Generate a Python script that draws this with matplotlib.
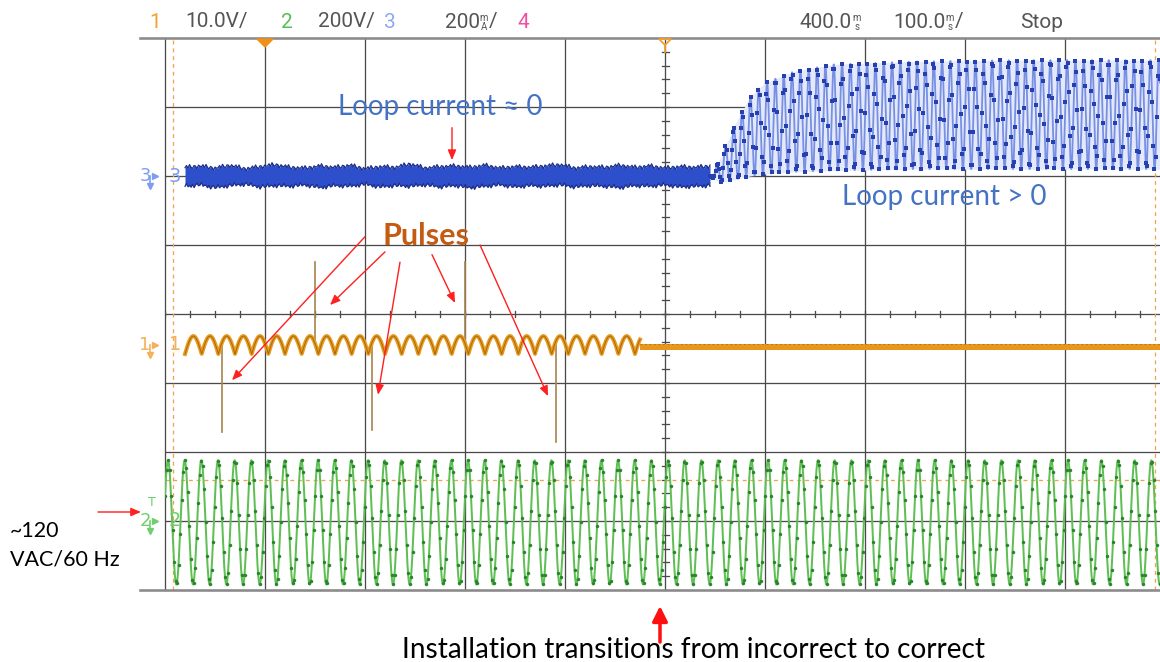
import numpy as np
import matplotlib
matplotlib.use("Agg")
import matplotlib.pyplot as plt
from matplotlib.patches import Polygon

# ------------------------------------------------------------------
# Data (time in ms relative to trigger, amplitude in screen divisions)
# ------------------------------------------------------------------
grid_times = [-500, -400, -300, -200, -100, 0, 100, 200, 300, 400]
grid_divs = [-4, -3, -2, -1, 0, 1, 2, 3, 4]

# Channel 3 (loop current) - idle noisy band before transition
ch3_idle_start = -480
ch3_idle_step = 15
ch3_idle_top = [2.12, 2.14, 2.11, 2.15, 2.10, 2.13, 2.16, 2.12, 2.11, 2.14, 2.12, 2.15,
                2.10, 2.13, 2.12, 2.17, 2.11, 2.13, 2.14, 2.12, 2.15, 2.11, 2.13, 2.12,
                2.14, 2.16, 2.11, 2.13, 2.12, 2.15, 2.12, 2.14, 2.11, 2.13, 2.12, 2.14]
ch3_idle_bot = [1.86, 1.88, 1.84, 1.87, 1.89, 1.85, 1.87, 1.86, 1.88, 1.84, 1.87, 1.86,
                1.89, 1.85, 1.87, 1.86, 1.88, 1.85, 1.87, 1.84, 1.86, 1.88, 1.85, 1.87,
                1.86, 1.88, 1.85, 1.87, 1.86, 1.84, 1.87, 1.86, 1.88, 1.85, 1.86, 1.87]
ch3_fine_jitter = [0.0, 0.03, -0.01, 0.04, 0.0, -0.02, 0.02, 0.01, -0.03, 0.02, 0.0]
ch3_fine_step = 1.5
# Channel 3 active ripple envelope after transition
ch3_env_t = [45, 55, 70, 85, 100, 130, 170, 250, 350, 495]
ch3_env_top = [2.00, 2.25, 2.75, 3.15, 3.35, 3.52, 3.62, 3.66, 3.68, 3.68]
ch3_env_bot = [2.00, 1.90, 1.95, 2.00, 2.03, 2.06, 2.08, 2.10, 2.10, 2.10]
ch3_ripple_hz = 120.0

# Channel 1 (pulse line)
ch1_level = -0.45
ch1_ripple_pp = 0.26
ch1_ripple_hz = 60.0
ch1_start = -480
ch1_switch = -25
ch1_settled_level = -0.48
pulse_t = [-443, -350, -293, -200, -109]
pulse_end = [-1.71, 0.75, -1.68, 0.75, -1.86]

# Channel 2 (~120 VAC / 60 Hz)
ch2_center = -3.02
ch2_amp = 0.90
ch2_hz = 60.0
ch2_peak_t = -497

trigger_level = -2.41
cursor_t = [-492, 490]

# Annotation arrows (tail -> head), data coordinates
loop_arrow = ((-213, 2.70), (-213, 2.23))
pulse_arrows = [((-300, 1.12), (-433, -0.96)),
                ((-280, 0.90), (-335, 0.13)),
                ((-265, 0.75), (-287, -1.17)),
                ((-233, 0.86), (-210, 0.16)),
                ((-185, 1.00), (-117, -1.19))]

header_items = [("1", 149, "#F5A030"), ("10.0V/", 185, "#555555"),
                ("2", 281, "#55C055"), ("200V/", 318, "#555555"),
                ("3", 384, "#8FA8F0"), ("200", 445, "#555555"),
                ("/", 489, "#555555"), ("4", 518, "#F050A0"),
                ("400.0", 800, "#555555"), ("100.0", 893, "#555555"),
                ("/", 955, "#555555"), ("Stop", 1020, "#555555")]
header_units = [("m", "A", 484), ("m", "s", 857), ("m", "s", 950)]

# ------------------------------------------------------------------
W, H, DPI = 1160, 662, 100
fig = plt.figure(figsize=(W / DPI, H / DPI), dpi=DPI)
fig.patch.set_facecolor("white")
PX = 0.72  # points per pixel

x0, y_top, y_bot = 165, 38, 590
ax = fig.add_axes([x0 / W, (H - y_bot) / H, (W - x0) / W, (y_bot - y_top) / H])
ax.set_xlim(-500, 495)
ax.set_ylim(-4, 4)
ax.axis("off")

ov = fig.add_axes([0, 0, 1, 1], zorder=5)
ov.set_xlim(0, W)
ov.set_ylim(H, 0)
ov.axis("off")
ov.patch.set_alpha(0)

grid_c = "#4a4a4a"
for t in grid_times:
    ax.plot([t, t], [-4, 4], color=grid_c, lw=1.3 * PX, zorder=1, clip_on=False)
for d in grid_divs[1:-1]:
    ax.plot([-500, 495], [d, d], color=grid_c, lw=1.3 * PX, zorder=1)
ov.plot([140, W], [y_top, y_top], color="#8a8a8a", lw=2.6 * PX, zorder=1)
ov.plot([140, W], [y_bot, y_bot], color="#8a8a8a", lw=2.6 * PX, zorder=1)

for t in np.arange(-500, 496, 25):
    ax.plot([t, t], [-0.045, 0.045], color=grid_c, lw=1.3 * PX, zorder=1)
for d in np.arange(-4, 4.01, 0.2):
    ax.plot([-3.5, 3.5], [d, d], color=grid_c, lw=1.3 * PX, zorder=1)

dash_c = "#F2A24A"
ax.plot([-500, 495], [trigger_level] * 2, color=dash_c, lw=1.3 * PX,
        dashes=(3, 3), zorder=2)
for t in cursor_t:
    ax.plot([t, t], [-4, 4], color=dash_c, lw=1.3 * PX, dashes=(3, 3), zorder=2)

# ---------------- channel 2 (green) ----------------
t2 = np.linspace(-500, 495, 12000)
y2 = ch2_center + ch2_amp * np.cos(2 * np.pi * ch2_hz * (t2 - ch2_peak_t) / 1000.0)
ax.plot(t2, y2, color="#5FBF55", lw=2.0 * PX, zorder=3)
ts2 = np.arange(-500, 495, 1.5)
ys2 = ch2_center + ch2_amp * np.cos(2 * np.pi * ch2_hz * (ts2 - ch2_peak_t) / 1000.0)
ax.plot(ts2, ys2, ls="none", marker="o", ms=2.5, color="#2A862A", mew=0, zorder=3)

# ---------------- channel 3 (blue) ----------------
t3i = ch3_idle_start + ch3_idle_step * np.arange(len(ch3_idle_top))
t3f = np.arange(t3i[0], t3i[-1] + 0.01, ch3_fine_step)
jit = np.resize(np.array(ch3_fine_jitter), len(t3f))
top_f = np.interp(t3f, t3i, ch3_idle_top) + jit
bot_f = np.interp(t3f, t3i, ch3_idle_bot) - np.roll(jit, 3)
ax.fill_between(t3f, bot_f, top_f, color="#2E4FCB", lw=0, zorder=3)
ax.plot(t3f, top_f, color="#1C2E86", lw=1.2 * PX, zorder=3)
ax.plot(t3f, bot_f, color="#1C2E86", lw=1.2 * PX, zorder=3)

t3 = np.linspace(ch3_env_t[0], ch3_env_t[-1], 10000)
top3 = np.interp(t3, ch3_env_t, ch3_env_top)
bot3 = np.interp(t3, ch3_env_t, ch3_env_bot)
ax.fill_between(t3, bot3, top3, color="#E3E8FA", lw=0, zorder=2)
y3 = (top3 + bot3) / 2 + (top3 - bot3) / 2 * np.sin(2 * np.pi * ch3_ripple_hz * t3 / 1000.0)
ax.plot(t3, y3, color="#7890E4", lw=1.8 * PX, zorder=3)
ts3 = np.arange(ch3_env_t[0], ch3_env_t[-1], 1.1)
tp3 = np.interp(ts3, ch3_env_t, ch3_env_top)
bp3 = np.interp(ts3, ch3_env_t, ch3_env_bot)
ys3 = (tp3 + bp3) / 2 + (tp3 - bp3) / 2 * np.sin(2 * np.pi * ch3_ripple_hz * ts3 / 1000.0)
ax.plot(ts3, ys3, ls="none", marker="s", ms=2.4, mew=0, color="#2640B0", zorder=3)

# ---------------- channel 1 (orange) ----------------
for t, e in zip(pulse_t, pulse_end):
    ax.plot([t, t], [ch1_level, e], color="#A88552", lw=1.7 * PX, zorder=3)
t1 = np.linspace(ch1_start, ch1_switch, 4000)
y1 = ch1_level - ch1_ripple_pp / 2 + ch1_ripple_pp * np.abs(
    np.sin(np.pi * ch1_ripple_hz * (t1 - ch1_start) / 1000.0))
ax.plot(t1, y1, color="#E99A20", lw=4.0 * PX, zorder=4)
ax.plot(t1, y1, color="#A86C08", lw=1.0 * PX, zorder=4)
ax.fill_between([ch1_switch, 495], ch1_settled_level - 0.045, ch1_settled_level + 0.045,
                color="#E8961C", lw=0, zorder=4)
ax.plot([ch1_switch, 495], [ch1_settled_level + 0.04] * 2, color="#B47410",
        lw=0.9 * PX, dashes=(2, 3), zorder=4)

# ---------------- in-plot annotations ----------------
ann_font = "Lato"
ax.text(-225, 3.0, "Loop current \u2248 0", color="#4472C4", fontsize=20,
        family=ann_font, ha="center", va="center", zorder=6)
ax.text(279, 1.70, "Loop current > 0", color="#4472C4", fontsize=20,
        family=ann_font, ha="center", va="center", zorder=6)
ax.text(-239, 1.13, "Pulses", color="#C55A11", fontsize=22, fontweight="bold",
        family=ann_font, ha="center", va="center", zorder=6)

arrow_kw = dict(arrowstyle="-|>,head_width=0.25,head_length=0.6", color="#FF2020",
                lw=1.4 * PX, shrinkA=0, shrinkB=0)
ax.annotate("", xy=loop_arrow[1], xytext=loop_arrow[0], arrowprops=arrow_kw, zorder=6)
for tail, head in pulse_arrows:
    ax.annotate("", xy=head, xytext=tail, arrowprops=arrow_kw, zorder=6)

# ---------------- header ----------------
for txt, x, c in header_items:
    ov.text(x, 22, txt, color=c, fontsize=15, family="Roboto", ha="left", va="center")
for top, bot, x in header_units:
    ov.text(x, 18, top, color="#555555", fontsize=7, family="Roboto", ha="center",
            va="center")
    ov.text(x, 27, bot, color="#555555", fontsize=7, family="Roboto", ha="center",
            va="center")

# top markers
ov.add_patch(Polygon([[257, 39], [273, 39], [265, 47]], closed=True,
                     facecolor="#F0901A", edgecolor="#F0901A"))
ov.add_patch(Polygon([[659, 39], [671, 39], [665, 45]], closed=True,
                     facecolor="none", edgecolor="#F0A030", lw=1.3))
ov.plot([665, 665], [45, 52], color="#F0A030", lw=1.3)

def ch_marker(y, label, color):
    ov.text(145, y, label, color=color, fontsize=13, ha="center", va="center",
            family="DejaVu Sans")
    ov.plot([155], [y], marker=">", ms=5, color=color, ls="none")
    ov.plot([150, 150], [y, y + 8], color=color, lw=1.2)
    ov.plot([150], [y + 10], marker="v", ms=5, color=color, ls="none")
    ov.text(175, y, label, color=color, fontsize=14, ha="center", va="center",
            family="DejaVu Sans")

ch_marker(176, "3", "#7F9CF5")
ch_marker(345, "1", "#F5B05A")
ch_marker(521, "2", "#6FCF6F")
ov.text(152, 503, "T", color="#6FCF6F", fontsize=9, ha="center", va="center")

ov.annotate("", xy=(141, 512), xytext=(98, 512),
            arrowprops=dict(arrowstyle="-|>,head_width=0.25,head_length=0.6",
                            color="#FF2020", lw=1.4 * PX, shrinkA=0, shrinkB=0))
ov.text(10, 531, "~120", fontsize=15.5, family=ann_font, ha="left", va="center",
        color="black")
ov.text(10, 559, "VAC/60 Hz", fontsize=15.5, family=ann_font, ha="left", va="center",
        color="black")

ov.annotate("", xy=(660, 606), xytext=(660, 642),
            arrowprops=dict(arrowstyle="-|>,head_width=0.45,head_length=0.9",
                            color="#FF1010", lw=3.5 * PX, shrinkA=0, shrinkB=0))
ov.text(694, 650, "Installation transitions from incorrect to correct", fontsize=20.2,
        family=ann_font, ha="center", va="center", color="black")

fig.savefig("out.png", dpi=DPI, facecolor="white")
